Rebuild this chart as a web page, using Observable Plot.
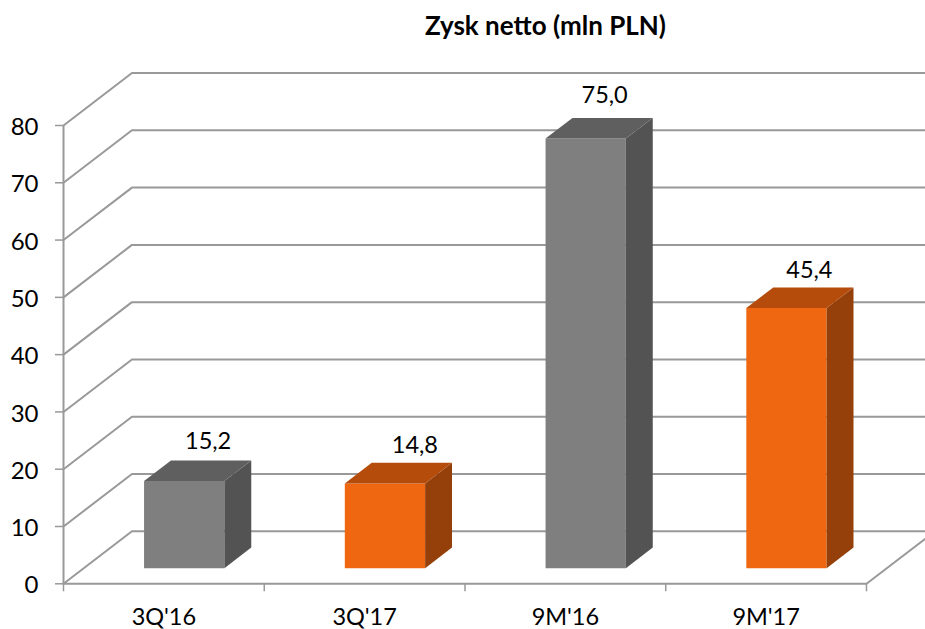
<!DOCTYPE html>
<html>
<head>
<meta charset="utf-8">
<script src="https://cdn.jsdelivr.net/npm/d3@7"></script>
<script src="https://cdn.jsdelivr.net/npm/@observablehq/plot@0.6"></script>
<style>
  html, body { margin: 0; padding: 0; background: #fff; overflow: hidden; }
  #title { height: 50px; width: 925px; box-sizing: border-box; padding-left: 425px;
    font: bold 26px/50px Lato, sans-serif; color: #000; white-space: nowrap; }
  svg { display: block; }
</style>
</head>
<body>
<div id="title">Zysk netto (mln PLN)</div>
<div id="chart"></div>
<script>
const categories = ["3Q'16", "3Q'17", "9M'16", "9M'17"];
const values = [15.2, 14.8, 75.0, 45.4];
const valueLabels = ["15,2", "14,8", "75,0", "45,4"];
const yTicks = [0, 10, 20, 30, 40, 50, 60, 70, 80];
const barColors = [
  {front: "#7f7f7f", top: "#5f5f5f", side: "#535353"},
  {front: "#f06711", top: "#b54c0c", side: "#95400a"},
  {front: "#7f7f7f", top: "#5f5f5f", side: "#535353"},
  {front: "#f06711", top: "#b54c0c", side: "#95400a"}
];
// Styling / placement of the pseudo-3D projection (not data)
const labelNudgeX = [-3, 3, -8, -4];
const labelNudgeY = [-19, -17, -22, -17];
const depthX = 0.341;   // category units per full depth
const depthY = 9.16;    // value units per full depth
const barFront = 0.297, barBack = 0.69, barHalf = 0.2;
const gridColor = "#999999";
const font = "Lato, sans-serif";

const px = (cat, depth) => cat + depth * depthX;
const py = (val, depth) => val + depth * depthY;

// polygons of each bar
const faces = [];
values.forEach((v, i) => {
  const l = i + 0.5 - barHalf, r = i + 0.5 + barHalf;
  const add = (name, pts) => pts.forEach(([c, val, d]) =>
    faces.push({id: `${i}-${name}`, x: px(c, d), y: py(val, d), color: barColors[i][name]}));
  add("front", [[l, 0, barFront], [r, 0, barFront], [r, v, barFront], [l, v, barFront]]);
  add("side", [[r, 0, barFront], [r, 0, barBack], [r, v, barBack], [r, v, barFront]]);
  add("top", [[l, v, barFront], [r, v, barFront], [r, v, barBack], [l, v, barBack]]);
});

// diagonal wall lines and the back-wall horizontals
const grid = yTicks.flatMap(t => [
  {id: t, x: px(0, 0), y: py(t, 0)},
  {id: t, x: px(0, 1), y: py(t, 1)},
  {id: t, x: px(categories.length, 1), y: py(t, 1)}
]);
const floorEdge = [
  {x: px(categories.length, 0), y: py(0, 0)},
  {x: px(categories.length, 1), y: py(0, 1)}
];

const catTicks = d3.range(categories.length + 1);
const labelMarks = values.map((v, i) =>
  Plot.text([valueLabels[i]], {
    x: () => px(i + 0.5, barBack),
    y: () => py(v, barBack),
    dx: labelNudgeX[i], dy: labelNudgeY[i],
    fontSize: 23.5, fontFamily: font, fill: "#000"
  }));

const plot = Plot.plot({
  width: 925, height: 579,
  marginLeft: 0, marginRight: 0, marginTop: 0, marginBottom: 0,
  x: {domain: [-63 / 200.75, 862 / 200.75], range: [0, 925], axis: null},
  y: {domain: [-7.98, 93.09], range: [579, 0], axis: null},
  color: {type: "identity"},
  marks: [
    Plot.line(grid, {x: "x", y: "y", z: "id", stroke: gridColor, strokeWidth: 2, clip: true}),
    Plot.line(floorEdge, {x: "x", y: "y", stroke: gridColor, strokeWidth: 2, clip: true}),
    Plot.ruleX([0], {y1: 0, y2: 80, stroke: gridColor, strokeWidth: 2}),
    Plot.ruleY([0], {x1: 0, x2: categories.length, stroke: gridColor, strokeWidth: 2}),
    Plot.ruleY(yTicks, {x1: -0.04, x2: 0, stroke: gridColor, strokeWidth: 1.5}),
    Plot.ruleX(catTicks, {y1: 0, y2: -1.4, stroke: gridColor, strokeWidth: 1.5}),
    Plot.line(faces, {x: "x", y: "y", z: "id", fill: "color", stroke: "none"}),
    Plot.text(yTicks, {x: 0, y: d => d, text: d => String(d), dx: -25, dy: 2, textAnchor: "end",
      fontSize: 24, fontFamily: font, fill: "#000"}),
    Plot.text(categories, {x: (d, i) => i + 0.5, y: 0, text: d => d, dy: 34,
      fontSize: 23.5, fontFamily: font, fill: "#000"}),
    ...labelMarks
  ]
});
document.getElementById("chart").append(plot);
</script>
</body>
</html>
